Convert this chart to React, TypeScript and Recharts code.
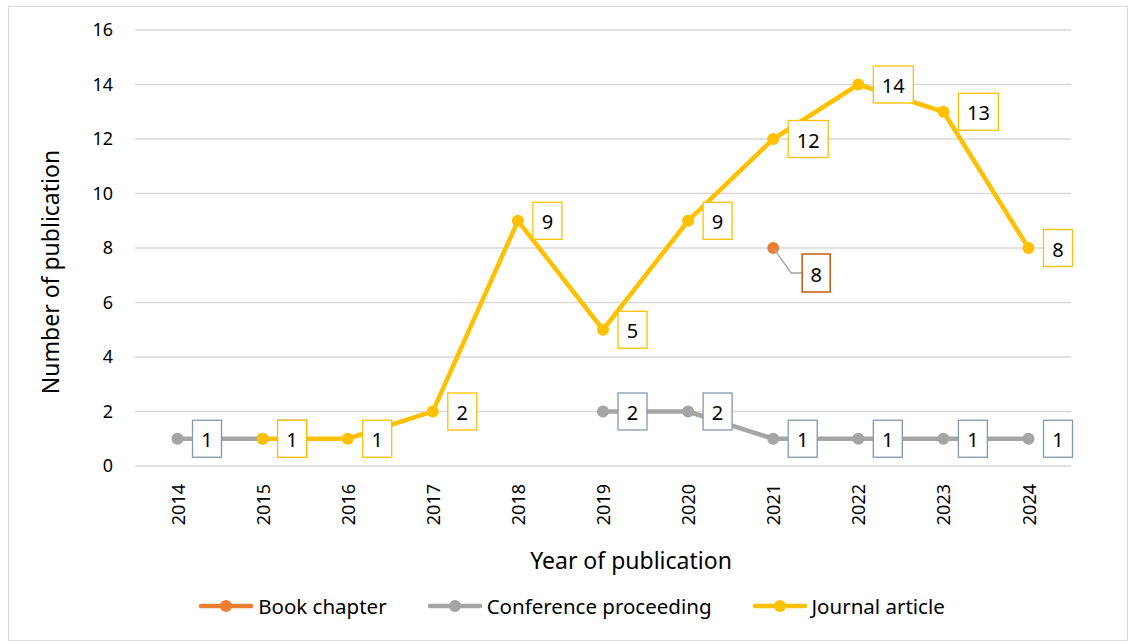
import { LineChart, Line, XAxis, YAxis, CartesianGrid, Legend, LabelList } from 'recharts';

const years = ['2014', '2015', '2016', '2017', '2018', '2019', '2020', '2021', '2022', '2023', '2024'];
const bookChapter = [null, null, null, null, null, null, null, 8, null, null, null];
const conferenceProceeding = [1, 1, null, null, null, 2, 2, 1, 1, 1, 1];
const journalArticle = [null, 1, 1, 2, 9, 5, 9, 12, 14, 13, 8];
const yTicks = [0, 2, 4, 6, 8, 10, 12, 14, 16];

const data = years.map((year, i) => ({
  year,
  book: bookChapter[i],
  conf: conferenceProceeding[i],
  journal: journalArticle[i],
}));

const FONT = '"Noto Sans", "Open Sans", sans-serif';

const pointOf = (props: any) => {
  const vb = props.viewBox || {};
  return { px: vb.x ?? props.x, py: vb.y ?? props.y };
};

function boxLabel(border: string) {
  return (props: any) => {
    const { value } = props;
    if (value == null) return null;
    const { px, py } = pointOf(props);
    const s = String(value);
    const w = 18 + 11 * s.length;
    return (
      <g>
        <rect x={px + 15} y={py - 18.5} width={w} height={37} fill="#fff" stroke={border} strokeWidth={1.3} />
        <text x={px + 15 + w / 2} y={py + 1} textAnchor="middle" dominantBaseline="central" fontSize={20} fontFamily={FONT} fill="#000">
          {s}
        </text>
      </g>
    );
  };
}

// book chapter label sits off the point with a leader line
const bookLabel = (props: any) => {
  const { value } = props;
  if (value == null) return null;
  const { px, py } = pointOf(props);
  const s = String(value);
  return (
    <g>
      <polyline points={`${px},${py} ${px + 18},${py + 25} ${px + 29},${py + 25}`} fill="none" stroke="#A6A6A6" strokeWidth={1.3} />
      <rect x={px + 29} y={py + 6} width={28} height={38} fill="#fff" stroke="#C55A11" strokeWidth={1.5} />
      <text x={px + 43} y={py + 26} textAnchor="middle" dominantBaseline="central" fontSize={20} fontFamily={FONT} fill="#000">
        {s}
      </text>
    </g>
  );
};

const YearTick = (props: any) => {
  const { x, y, payload } = props;
  return (
    <text transform={`translate(${x},${y + 16}) rotate(-90)`} textAnchor="end" dominantBaseline="central" fontSize={18} fontFamily={FONT} fill="#000">
      {payload.value}
    </text>
  );
};

const legendItems = [
  { name: 'Book chapter', color: '#ED7D31' },
  { name: 'Conference proceeding', color: '#A5A5A5' },
  { name: 'Journal article', color: '#FFC000' },
];

const LegendContent = () => (
  <div style={{ display: 'flex', justifyContent: 'center', gap: 40, fontFamily: FONT, fontSize: 20.5, color: '#000', paddingLeft: 72 }}>
    {legendItems.map((it) => (
      <div key={it.name} style={{ display: 'flex', alignItems: 'center' }}>
        <svg width={56} height={14} style={{ marginRight: 4 }}>
          <line x1={3} y1={7} x2={53} y2={7} stroke={it.color} strokeWidth={4.5} strokeLinecap="round" />
          <circle cx={28} cy={7} r={6} fill={it.color} />
        </svg>
        <span>{it.name}</span>
      </div>
    ))}
  </div>
);

export default function App() {
  return (
    <div style={{ position: 'relative', width: 1129, height: 642, background: '#fff' }}>
      <style>{'body{margin:0}'}</style>
      <div style={{ position: 'absolute', left: 8, top: 6, width: 1118, height: 633, border: '1px solid #D9D9D9' }} />
      <LineChart width={1129} height={642} data={data} margin={{ top: 30, right: 58, bottom: 48, left: 0 }}>
        <CartesianGrid vertical={false} stroke="#D9D9D9" strokeWidth={1.3} />
        <XAxis
          dataKey="year"
          axisLine={false}
          tickLine={false}
          tickSize={0}
          tick={<YearTick />}
          interval={0}
          height={100}
          padding={{ left: 42.5, right: 42.5 }}
          label={(p: any) => (
            <text x={631} y={560} textAnchor="middle" dominantBaseline="central" fontSize={23} fontFamily={FONT} fill="#000">
              Year of publication
            </text>
          )}
        />
        <YAxis
          domain={[0, 16]}
          ticks={yTicks}
          width={135}
          axisLine={false}
          tickLine={false}
          tickSize={0}
          tickMargin={22}
          tick={{ fontSize: 18, fontFamily: FONT, fill: '#000' }}
          label={(p: any) => (
            <text transform="translate(50,272) rotate(-90)" textAnchor="middle" dominantBaseline="central" fontSize={23} fontFamily={FONT} fill="#000">
              Number of publication
            </text>
          )}
        />
        <Legend verticalAlign="bottom" content={<LegendContent />} wrapperStyle={{ top: 592 }} />
        <Line dataKey="book" name="Book chapter" stroke="#ED7D31" strokeWidth={4.5} dot={{ r: 6, fill: '#ED7D31', stroke: '#ED7D31', strokeWidth: 0 }} isAnimationActive={false}>
          <LabelList dataKey="book" content={bookLabel} />
        </Line>
        <Line dataKey="conf" name="Conference proceeding" stroke="#A5A5A5" strokeWidth={4.5} dot={{ r: 6, fill: '#A5A5A5', stroke: '#A5A5A5', strokeWidth: 0 }} isAnimationActive={false}>
          <LabelList dataKey="conf" content={boxLabel('#8497B0')} />
        </Line>
        <Line dataKey="journal" name="Journal article" stroke="#FFC000" strokeWidth={4.5} dot={{ r: 6, fill: '#FFC000', stroke: '#FFC000', strokeWidth: 0 }} isAnimationActive={false}>
          <LabelList dataKey="journal" content={boxLabel('#FFC000')} />
        </Line>
      </LineChart>
    </div>
  );
}
